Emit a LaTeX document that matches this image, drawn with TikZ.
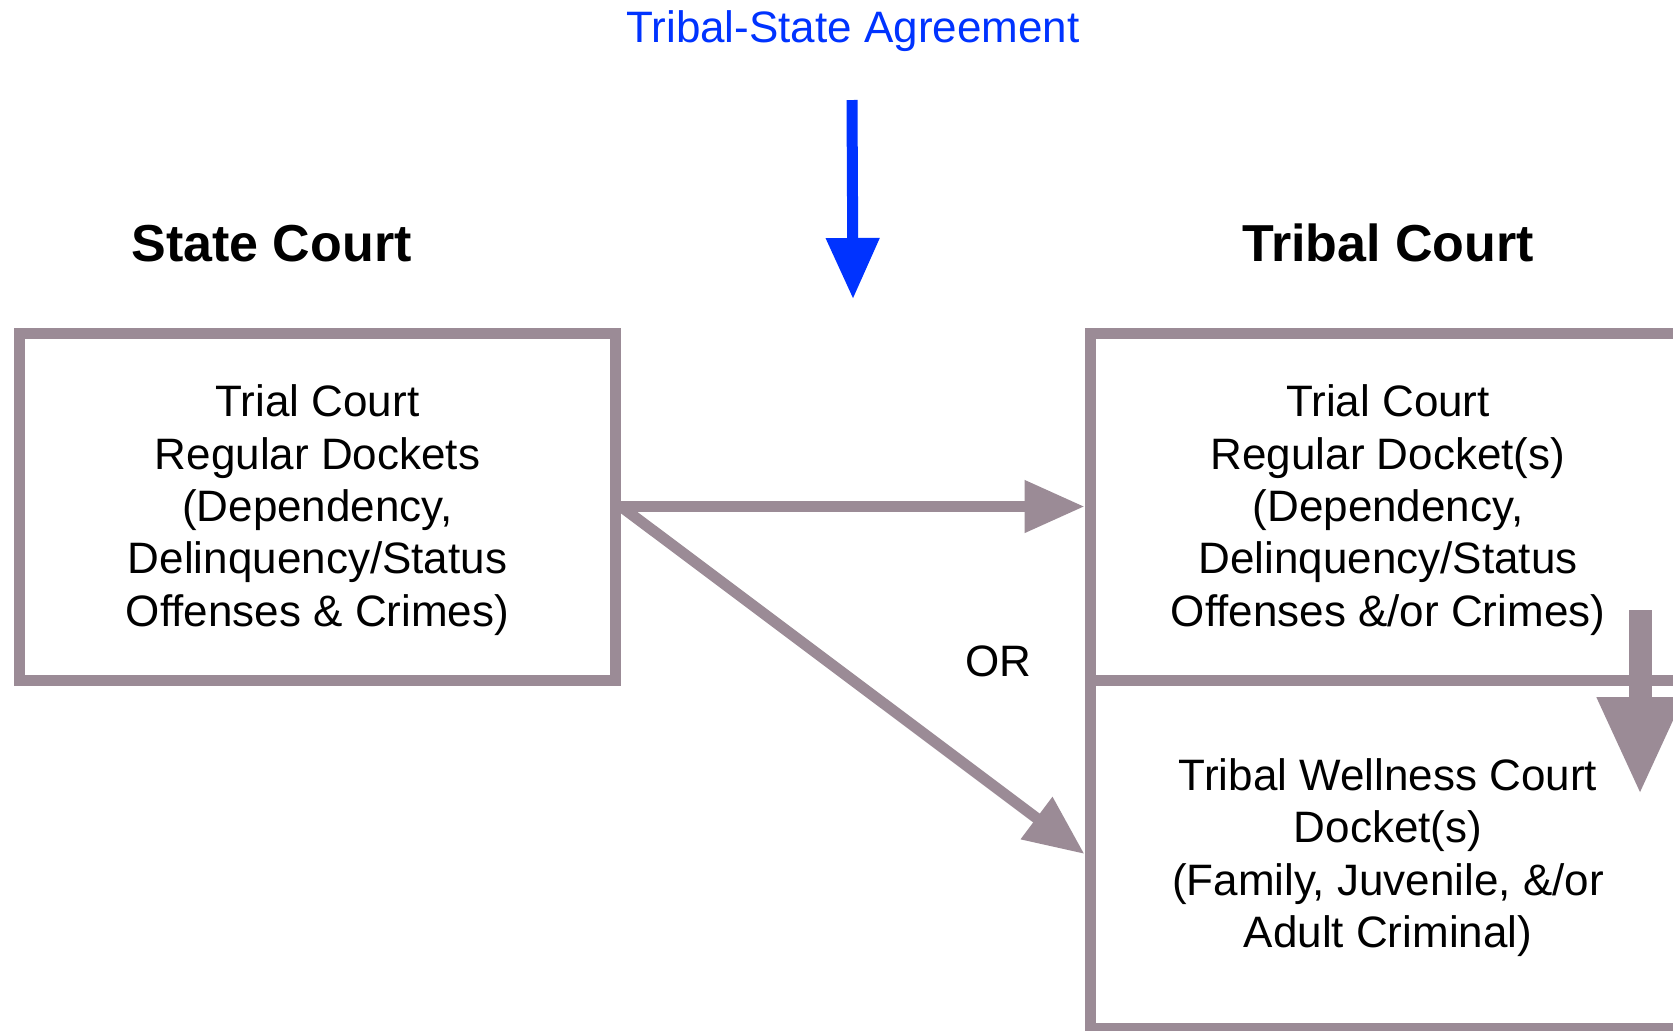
\documentclass[tikz,border=0pt]{standalone}
\usepackage{fontspec}
\setmainfont{Liberation Sans}
\usetikzlibrary{arrows.meta}
\definecolor{boxgray}{RGB}{155,139,150}
\definecolor{agreeblue}{RGB}{0,51,255}
\newcommand{\topgap}{\rule{0pt}{19.5pt}}

\begin{document}
\begin{tikzpicture}[x=0.5pt, y=-0.5pt,
    courtbox/.style={rectangle, draw=boxgray, line width=5.5pt, minimum width=298pt, minimum height=173.5pt, inner sep=0pt, align=center, font=\fontsize{22}{26.15}\selectfont},
    heading/.style={anchor=base, font=\fontsize{26}{31}\selectfont\bfseries},
    flow/.style={draw=boxgray, line width=5.5pt, -{Triangle[length=30pt, width=25pt]}}]
    \useasboundingbox (0,0) rectangle (1673,1030);
    \fill[white] (0,0) rectangle (1673,1030);
    \clip (0,0) rectangle (1673,1030);

    % Headings
    \node[anchor=base, text=agreeblue, font=\fontsize{22}{26}\selectfont] (Agreement) at (853,42) {Tribal-State Agreement};
    \node[heading] (StateHead) at (271.5,261) {State Court};
    \node[heading] (TribalHead) at (1388,261) {Tribal Court};

    % Court boxes
    \node[courtbox] (StateTrial) at (317.5,506.5) {\topgap Trial Court\\Regular Dockets\\(Dependency,\\Delinquency/Status\\Offenses \& Crimes)};
    \node[courtbox] (TribalTrial) at (1388,506.5) {\topgap Trial Court\\Regular Docket(s)\\(Dependency,\\Delinquency/Status\\Offenses \&/or Crimes)};
    \node[courtbox, minimum height=174pt] (Wellness) at (1388,854) {\topgap Tribal Wellness Court\\Docket(s)\\(Family, Juvenile, \&/or\\Adult Criminal)};

    % Transfer arrows
    \draw[flow] (StateTrial.east) -- (TribalTrial.west);
    \draw[flow] (StateTrial.east) -- (Wellness.west);
    \node[anchor=base, font=\fontsize{22}{26}\selectfont] (Or) at (998.5,676) {OR};

    % Agreement arrow
    \coordinate (AgreeFrom) at (852,100);
    \coordinate (AgreeTo) at (853,299);
    \draw[agreeblue, line width=5.5pt, -{Triangle[length=30.5pt, width=25.5pt]}] (AgreeFrom) -- (AgreeTo);

    % Down into wellness docket
    \coordinate (DownFrom) at (1640,610);
    \coordinate (DownTo) at (1640,795);
    \draw[boxgray, line width=11.5pt, -{Triangle[length=49pt, width=40pt]}] (DownFrom) -- (DownTo);
\end{tikzpicture}
\end{document}
